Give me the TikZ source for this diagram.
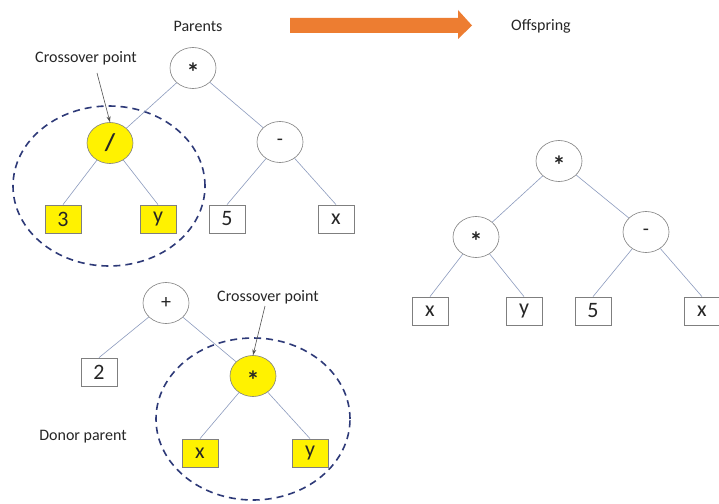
\documentclass[tikz,border=0pt]{standalone}
\usepackage{fontspec}
\setmainfont{Carlito}
\usetikzlibrary{shapes.geometric,arrows.meta}
\definecolor{edgec}{HTML}{8C9BBE}
\definecolor{boxc}{HTML}{7F7F7F}
\definecolor{hiyel}{HTML}{FFF200}
\definecolor{ringc}{HTML}{2E3A78}
\definecolor{orng}{HTML}{ED7D31}
\definecolor{txt}{HTML}{262626}
% a larger asterisk, lowered so that it sits in the middle of its node
\newcommand{\opstar}{\smash{\raisebox{-13pt}{\fontsize{26}{26}\selectfont\bfseries *}}}
\tikzset{
  op/.style={ellipse, draw=boxc, line width=0.6pt, minimum width=46pt, minimum height=41pt, inner sep=0pt, font=\fontsize{20}{20}\selectfont, text=txt},
  leaf/.style={rectangle, draw=boxc, line width=0.8pt, minimum width=36pt, minimum height=28pt, inner sep=0pt, font=\fontsize{22}{22}\selectfont, text=txt},
  hot/.style={fill=hiyel},
  link/.style={draw=edgec, line width=0.6pt},
  ring/.style={ellipse, draw=ringc, line width=1.6pt, dash pattern=on 7pt off 5pt, inner sep=0pt},
  lbl/.style={font=\fontsize{16}{16}\selectfont, text=txt, inner sep=0pt},
  pointer/.style={draw=txt!80, line width=0.6pt, -{Stealth[length=6pt,width=4pt]}}
}
\begin{document}
\begin{tikzpicture}[x=1pt,y=-1pt]
\useasboundingbox (0,0) rectangle (719,503);
\fill[white] (0,0) rectangle (719,503);

% titles and process arrow
\node[lbl] (tparents) at (198,26) {Parents};
\node[lbl] (toffspring) at (541,26) {Offspring};
\fill[orng] (290,18) -- (458,18) -- (458,10) -- (472,25.5) -- (458,39) -- (458,33) -- (290,33) -- cycle;

% first parent
\node[ring, minimum width=192pt, minimum height=160pt] (ring1) at (109,186) {};
\node[op] (p1) at (193,68) {\opstar};
\node[op, hot] (p1a) at (110,143) {\fontsize{24}{24}\selectfont\bfseries /};
\node[op] (p1b) at (280,142) {-};
\node[leaf, hot] (p1c) at (63,219) {3};
\node[leaf, hot] (p1d) at (158,219) {y};
\node[leaf] (p1e) at (227,219) {5};
\node[leaf] (p1f) at (336,219) {x};
\draw[link] (p1) -- (p1a);
\draw[link] (p1) -- (p1b);
\draw[link] (p1a) -- (p1c.north);
\draw[link] (p1a) -- (p1d.north);
\draw[link] (p1b) -- (p1e.north);
\draw[link] (p1b) -- (p1f.north);
\node[lbl] (cp1) at (86,58) {Crossover point};
\coordinate (cp1s) at (97,73);
\draw[pointer] (cp1s) -- (p1a.north);

% donor parent
\node[ring, minimum width=194pt, minimum height=162pt] (ring2) at (253,419) {};
\node[op] (d1) at (166,303) {+};
\node[leaf] (d1a) at (99,372) {2};
\node[op, hot] (d1b) at (253,376) {\opstar};
\node[leaf, hot] (d1c) at (200,453) {x};
\node[leaf, hot] (d1d) at (310,453) {y};
\draw[link] (d1) -- (d1a.north);
\draw[link] (d1) -- (d1b);
\draw[link] (d1b) -- (d1c.north);
\draw[link] (d1b) -- (d1d.north);
\node[lbl] (cp2) at (268,297) {Crossover point};
\coordinate (cp2s) at (265,306);
\draw[pointer] (cp2s) -- (d1b.north);
\node[lbl] (tdonor) at (83,437) {Donor parent};

% offspring
\node[op] (o1) at (559,161) {\opstar};
\node[op] (o1a) at (476,237) {\opstar};
\node[op] (o1b) at (646,232) {-};
\node[leaf] (o1c) at (430,311) {x};
\node[leaf] (o1d) at (524,311) {y};
\node[leaf] (o1e) at (593,311) {5};
\node[leaf] (o1f) at (702,311) {x};
\draw[link] (o1) -- (o1a);
\draw[link] (o1) -- (o1b);
\draw[link] (o1a) -- (o1c.north);
\draw[link] (o1a) -- (o1d.north);
\draw[link] (o1b) -- (o1e.north);
\draw[link] (o1b) -- (o1f.north);
\end{tikzpicture}
\end{document}
